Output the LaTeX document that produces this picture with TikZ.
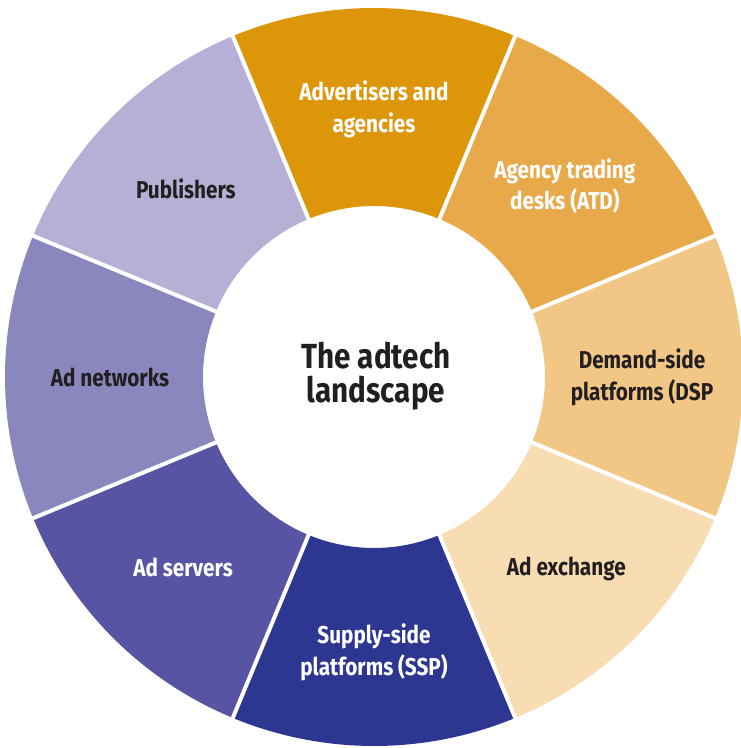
\documentclass[tikz,border=0pt]{standalone}
\usepackage{fontspec}
\setmainfont[FakeStretch=0.85]{Fira Sans}
\usepackage{xcolor}
\usetikzlibrary{positioning}

\definecolor{advcol}{HTML}{DD950A}
\definecolor{atdcol}{HTML}{E8A94A}
\definecolor{dspcol}{HTML}{F2C684}
\definecolor{adxcol}{HTML}{F8DDB3}
\definecolor{sspcol}{HTML}{2D3792}
\definecolor{servcol}{HTML}{5854A4}
\definecolor{netcol}{HTML}{8A86BE}
\definecolor{pubcol}{HTML}{B7B0D6}
\definecolor{inkcol}{HTML}{231F20}

\begin{document}
\begin{tikzpicture}[x=1bp,y=1bp,
    seglabel/.style={font=\bfseries\fontsize{24.5}{32}\selectfont, align=center},
    title/.style={font=\bfseries\fontsize{35}{34}\selectfont, align=center, text=inkcol}]
    \useasboundingbox (-374,-371) rectangle (367,377);
    \foreach \a/\c in {90/advcol,45/atdcol,0/dspcol,-45/adxcol,-90/sspcol,-135/servcol,180/netcol,135/pubcol}
        \fill[\c] ({\a-22.5}:171) arc[start angle={\a-22.5}, end angle={\a+22.5}, radius=171]
            -- ({\a+22.5}:369) arc[start angle={\a+22.5}, end angle={\a-22.5}, radius=369] -- cycle;
    \foreach \b in {22.5,67.5,...,337.5}
        \draw[white, line width=4] (\b:165) -- (\b:375);
    \node[title] (hub) at (2,1) {The adtech\\landscape};
    \node[seglabel, white] (adv) at (90:268) {Advertisers and\\agencies};
    \node[seglabel, white] (atd) at (45:270) {Agency trading\\desks (ATD)};
    \node[seglabel, text=inkcol] (dsp) at (0:268) {Demand-side\\platforms (DSP};
    \node[seglabel, text=inkcol] (adx) at (-45:272) {Ad exchange};
    \node[seglabel, white] (ssp) at (-90:275) {Supply-side\\platforms (SSP)};
    \node[seglabel, white] (serv) at (-135:270) {Ad servers};
    \node[seglabel, text=inkcol] (net) at (180:264) {Ad networks};
    \node[seglabel, text=inkcol] (pub) at (135:266) {Publishers};
\end{tikzpicture}
\end{document}
